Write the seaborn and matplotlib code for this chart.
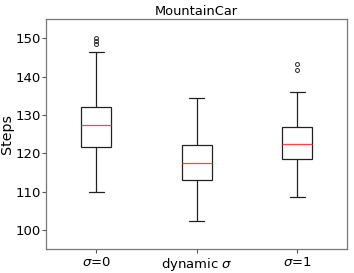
import matplotlib
matplotlib.use("Agg")
import matplotlib.pyplot as plt
import seaborn as sns
import pandas as pd

categories = [r"$\sigma$=0", r"dynamic $\sigma$", r"$\sigma$=1"]
steps_sigma0 = [110.0, 114.0, 117.5, 120.0, 121.7, 123.0, 124.5, 126.0, 127.5,
                128.5, 129.5, 131.0, 132.0, 146.5, 148.4, 149.2, 150.2]
steps_dynamic = [102.3, 106.0, 109.0, 111.5, 113.0, 114.5, 115.5, 116.5, 117.4,
                 118.5, 119.5, 121.0, 122.3, 125.0, 128.0, 131.0, 134.4]
steps_sigma1 = [108.5, 112.0, 115.0, 117.0, 118.4, 119.5, 120.5, 121.5, 122.4,
                123.5, 124.5, 125.5, 126.8, 130.0, 136.0, 141.8, 143.2]

df = pd.DataFrame({
    "method": [categories[0]] * len(steps_sigma0)
              + [categories[1]] * len(steps_dynamic)
              + [categories[2]] * len(steps_sigma1),
    "Steps": steps_sigma0 + steps_dynamic + steps_sigma1,
})

sns.set_style("ticks")
plt.rcParams["font.family"] = ["DejaVu Sans"]
plt.rcParams["text.color"] = "black"
plt.rcParams["axes.labelcolor"] = "black"
plt.rcParams["xtick.color"] = "black"
plt.rcParams["ytick.color"] = "black"

fig = plt.figure(figsize=(3.54, 2.73), dpi=100)
ax = fig.add_axes([0.130, 0.087, 0.851, 0.843])

sns.boxplot(
    data=df, x="method", y="Steps", order=categories, ax=ax,
    width=0.3, color="white", linecolor="#222222", linewidth=0.9,
    whis=1.5,
    medianprops=dict(color="#ff4444", linewidth=0.9),
    flierprops=dict(marker="o", markersize=2.8, markerfacecolor="none",
                    markeredgecolor="#222222", markeredgewidth=0.7),
)

ax.set_ylim(95, 155)
ax.set_yticks([100, 110, 120, 130, 140, 150])
ax.set_xlabel("")
ax.set_ylabel("Steps", fontsize=10.3, labelpad=1)
ax.set_title("MountainCar", fontsize=9.4, pad=3, color="black")
ax.tick_params(axis="both", labelsize=9.5, length=2.8, width=0.8,
               colors="black")
ax.tick_params(axis="y", pad=1)
ax.tick_params(axis="x", pad=2)
ax.tick_params(axis="both", color="#555555")
for s in ax.spines.values():
    s.set_visible(True)
    s.set_color("#777777")
    s.set_linewidth(0.9)

fig.savefig("out.png", dpi=100)
